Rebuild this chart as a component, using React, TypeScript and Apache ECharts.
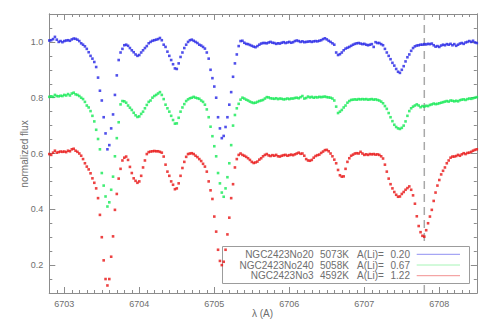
import React, { useEffect, useRef } from "react";
import * as echarts from "echarts";

// wavelength sampling of the spectra (Angstrom)
const LAMBDA_START = 6702.8;
const LAMBDA_STEP = 0.025;

const X_MIN = 6702.8;
const X_MAX = 6708.5;
const Y_MIN = 0.1;
const Y_MAX = 1.1;
const X_TICKS = [6703, 6704, 6705, 6706, 6707, 6708];
const Y_TICKS = [0.2, 0.4, 0.6, 0.8, 1.0];
const LI_LINE = 6707.8;

const STARS = ["NGC2423No20", "NGC2423No240", "NGC2423No3"];
const TEFF = ["5073K", "5058K", "4592K"];
const ALI = ["0.20", "0.67", "1.22"];

const FLUX_NO20 = [
  1.005, 1.006, 1.010, 1.018, 1.008, 1.000, 1.003, 0.999, 1.003, 1.005,
  1.006, 1.004, 1.009, 1.012, 1.011, 1.008, 1.003, 0.995, 0.990, 0.984,
  0.975, 0.963, 0.950, 0.940, 0.928, 0.910, 0.872, 0.825, 0.790, 0.730,
  0.672, 0.615, 0.630, 0.690, 0.740, 0.810, 0.880, 0.935, 0.962, 0.975,
  0.988, 0.990, 0.986, 0.978, 0.970, 0.963, 0.955, 0.950, 0.953, 0.962,
  0.970, 0.978, 0.985, 0.995, 1.000, 1.004, 1.006, 1.008, 1.010, 1.014,
  1.006, 0.990, 0.982, 0.965, 0.950, 0.935, 0.920, 0.905, 0.903, 0.923,
  0.946, 0.962, 0.978, 0.990, 1.000, 1.006, 1.008, 1.004, 1.000, 0.996,
  0.990, 0.987, 0.982, 0.976, 0.962, 0.940, 0.900, 0.870, 0.840, 0.800,
  0.730, 0.690, 0.655, 0.663, 0.695, 0.730, 0.775, 0.820, 0.875, 0.923,
  0.955, 0.985, 1.003, 1.004, 0.997, 0.993, 0.992, 0.989, 0.986, 0.983,
  0.981, 0.985, 0.990, 0.994, 0.996, 0.996, 0.995, 0.998, 1.000, 0.997,
  0.996, 0.993, 0.995, 0.994, 0.997, 0.999, 0.996, 0.998, 1.000, 0.997,
  0.999, 1.003, 1.005, 1.003, 1.000, 1.002, 0.999, 1.000, 1.001, 1.002,
  1.000, 1.002, 1.003, 1.002, 1.004, 1.006, 1.010, 1.013, 1.009, 1.004,
  1.000, 0.995, 0.990, 0.962, 0.953, 0.956, 0.962, 0.970, 0.976, 0.979,
  0.982, 0.986, 0.990, 0.993, 0.995, 0.996, 0.994, 0.992, 0.993, 0.990,
  0.988, 0.990, 0.992, 0.982, 0.999, 0.996, 0.996, 0.992, 0.988, 0.975,
  0.962, 0.950, 0.938, 0.925, 0.915, 0.903, 0.893, 0.889, 0.900, 0.913,
  0.930, 0.945, 0.955, 0.968, 0.978, 0.984, 0.987, 0.988, 0.990, 0.990,
  0.992, 0.991, 0.993, 0.992, 0.994, 0.988, 0.983, 0.985, 0.982, 0.987,
  0.990, 0.988, 0.992, 0.990, 0.993, 0.988, 0.992, 0.986, 0.990, 0.994,
  0.996, 0.993, 0.998, 1.000, 1.003, 1.000, 1.004, 0.998, 0.996,
];

const FLUX_NO240 = [
  0.803, 0.805, 0.803, 0.810, 0.806, 0.805, 0.807, 0.806, 0.810, 0.808,
  0.813, 0.808, 0.815, 0.818, 0.812, 0.810, 0.806, 0.800, 0.795, 0.785,
  0.772, 0.765, 0.752, 0.735, 0.715, 0.685, 0.652, 0.615, 0.530, 0.485,
  0.446, 0.410, 0.425, 0.470, 0.517, 0.590, 0.655, 0.712, 0.776, 0.788,
  0.787, 0.782, 0.772, 0.764, 0.756, 0.746, 0.737, 0.731, 0.733, 0.742,
  0.750, 0.762, 0.774, 0.785, 0.790, 0.800, 0.806, 0.810, 0.815, 0.820,
  0.810, 0.795, 0.775, 0.762, 0.750, 0.735, 0.720, 0.707, 0.708, 0.728,
  0.750, 0.765, 0.777, 0.788, 0.794, 0.798, 0.800, 0.803, 0.800, 0.798,
  0.796, 0.790, 0.785, 0.775, 0.758, 0.730, 0.696, 0.662, 0.626, 0.590,
  0.530, 0.493, 0.460, 0.445, 0.475, 0.515, 0.565, 0.630, 0.700, 0.738,
  0.762, 0.778, 0.793, 0.800, 0.797, 0.793, 0.790, 0.786, 0.783, 0.781,
  0.782, 0.785, 0.788, 0.790, 0.792, 0.797, 0.802, 0.801, 0.798, 0.797,
  0.796, 0.798, 0.795, 0.797, 0.796, 0.794, 0.795, 0.797, 0.795, 0.797,
  0.797, 0.799, 0.800, 0.798, 0.802, 0.806, 0.797, 0.799, 0.804, 0.801,
  0.803, 0.800, 0.802, 0.801, 0.803, 0.802, 0.803, 0.804, 0.802, 0.801,
  0.800, 0.797, 0.790, 0.768, 0.745, 0.750, 0.756, 0.765, 0.772, 0.782,
  0.788, 0.792, 0.793, 0.794, 0.793, 0.795, 0.794, 0.795, 0.794, 0.795,
  0.793, 0.794, 0.795, 0.793, 0.794, 0.792, 0.790, 0.786, 0.780, 0.770,
  0.760, 0.745, 0.730, 0.716, 0.703, 0.695, 0.690, 0.688, 0.692, 0.700,
  0.715, 0.735, 0.752, 0.762, 0.768, 0.772, 0.776, 0.772, 0.766, 0.770,
  0.768, 0.771, 0.770, 0.774, 0.776, 0.779, 0.777, 0.778, 0.780, 0.782,
  0.784, 0.786, 0.788, 0.786, 0.790, 0.789, 0.787, 0.789, 0.787, 0.791,
  0.793, 0.794, 0.792, 0.795, 0.797, 0.796, 0.798, 0.800, 0.802,
];

const FLUX_NO3 = [
  0.598, 0.595, 0.603, 0.610, 0.603, 0.605, 0.607, 0.606, 0.607, 0.605,
  0.610, 0.608, 0.615, 0.617, 0.610, 0.606, 0.600, 0.592, 0.580, 0.565,
  0.553, 0.543, 0.529, 0.511, 0.495, 0.475, 0.440, 0.380, 0.300, 0.217,
  0.150, 0.127, 0.150, 0.230, 0.303, 0.398, 0.455, 0.510, 0.545, 0.575,
  0.585, 0.589, 0.577, 0.552, 0.530, 0.511, 0.502, 0.495, 0.500, 0.520,
  0.550, 0.575, 0.598, 0.605, 0.607, 0.608, 0.609, 0.608, 0.608, 0.606,
  0.603, 0.589, 0.560, 0.535, 0.520, 0.500, 0.488, 0.472, 0.475, 0.493,
  0.520, 0.548, 0.570, 0.588, 0.598, 0.600, 0.601, 0.598, 0.592, 0.587,
  0.580, 0.573, 0.563, 0.553, 0.535, 0.500, 0.468, 0.437, 0.374, 0.320,
  0.255, 0.215, 0.200, 0.212, 0.255, 0.310, 0.370, 0.440, 0.490, 0.550,
  0.580, 0.595, 0.600, 0.595, 0.592, 0.588, 0.583, 0.577, 0.570, 0.566,
  0.568, 0.571, 0.578, 0.583, 0.590, 0.595, 0.598, 0.593, 0.591, 0.594,
  0.592, 0.595, 0.590, 0.589, 0.592, 0.594, 0.595, 0.592, 0.594, 0.596,
  0.594, 0.597, 0.600, 0.603, 0.599, 0.600, 0.592, 0.580, 0.575, 0.574,
  0.577, 0.585, 0.591, 0.594, 0.596, 0.602, 0.607, 0.612, 0.613, 0.608,
  0.600, 0.590, 0.578, 0.565, 0.541, 0.522, 0.517, 0.518, 0.545, 0.570,
  0.583, 0.592, 0.596, 0.600, 0.601, 0.600, 0.606, 0.600, 0.595, 0.597,
  0.595, 0.598, 0.597, 0.598, 0.596, 0.597, 0.595, 0.590, 0.582, 0.560,
  0.535, 0.510, 0.490, 0.475, 0.462, 0.452, 0.445, 0.446, 0.455, 0.462,
  0.470, 0.476, 0.482, 0.470, 0.450, 0.420, 0.375, 0.340, 0.318, 0.305,
  0.302, 0.325, 0.350, 0.374, 0.398, 0.430, 0.460, 0.485, 0.505, 0.525,
  0.538, 0.550, 0.565, 0.575, 0.585, 0.589, 0.589, 0.591, 0.595, 0.592,
  0.597, 0.601, 0.598, 0.602, 0.603, 0.606, 0.610, 0.613, 0.615,
];

const SERIES_FLUX = [FLUX_NO20, FLUX_NO240, FLUX_NO3];
const DOT_COLORS = ["#2424e6", "#14ea55", "#e81414"];
const LEGEND_LINE_COLORS = ["#9090f2", "#a6f4b6", "#f29090"];

const FRAME = "#8c8c8c";
const TEXT = "#6e6e6e";
const FONT = "Liberation Sans, Arial, sans-serif";

export default function App() {
  const ref = useRef<HTMLDivElement>(null);

  useEffect(() => {
    if (!ref.current) return;
    const chart = echarts.init(ref.current, undefined, { renderer: "svg" });

    const line = { lineStyle: { color: FRAME, width: 1 } };
    const mkX = (position: string, major: boolean, labels: boolean) => ({
      type: "value",
      position,
      min: X_MIN,
      max: X_MAX,
      ...(major ? {} : { interval: 0.1 }),
      axisLine: { show: true, onZero: false, ...line },
      splitLine: { show: false },
      axisTick: {
        show: true,
        inside: true,
        length: major ? 6 : 3,
        ...(major ? { customValues: X_TICKS } : {}),
        ...line,
      },
      axisLabel: labels
        ? {
            show: true,
            customValues: X_TICKS,
            formatter: (v: number) => String(v),
            color: TEXT,
            fontSize: 9,
            fontFamily: FONT,
            margin: 6,
          }
        : { show: false },
    });
    const mkY = (position: string, major: boolean, labels: boolean) => ({
      type: "value",
      position,
      min: Y_MIN,
      max: Y_MAX,
      ...(major ? {} : { interval: 0.05 }),
      axisLine: { show: true, onZero: false, ...line },
      splitLine: { show: false },
      axisTick: {
        show: true,
        inside: true,
        length: major ? 6 : 3,
        ...(major ? { customValues: Y_TICKS } : {}),
        ...line,
      },
      axisLabel: labels
        ? {
            show: true,
            customValues: Y_TICKS,
            formatter: (v: number) => v.toFixed(1),
            color: TEXT,
            fontSize: 9,
            fontFamily: FONT,
            margin: 6,
          }
        : { show: false },
    });

    const rowsY = [254.3, 265, 275.7];
    const legendEls: any[] = [
      {
        type: "rect",
        z: 1.5,
        shape: { x: 222.5, y: 246.5, width: 247, height: 37 },
        style: { fill: "#ffffff", stroke: "#9c9c9c", lineWidth: 1 },
      },
    ];
    STARS.forEach((name, k) => {
      const y = rowsY[k];
      const ts = { fontSize: 10, fontFamily: FONT, fill: TEXT, verticalAlign: "middle" };
      legendEls.push(
        { type: "text", z: 10, x: 313.5, y, style: { ...ts, text: name, align: "right" } },
        { type: "text", z: 10, x: 320, y, style: { ...ts, text: TEFF[k], align: "left" } },
        { type: "text", z: 10, x: 357, y, style: { ...ts, text: "A(Li)=", align: "left" } },
        { type: "text", z: 10, x: 410, y, style: { ...ts, text: ALI[k], align: "right" } },
        {
          type: "line",
          z: 10,
          shape: { x1: 416.7, y1: y, x2: 460, y2: y },
          style: { stroke: LEGEND_LINE_COLORS[k], lineWidth: 1 },
        }
      );
    });

    const option: any = {
      animation: false,
      backgroundColor: "#ffffff",
      grid: { left: 49.3, right: 14.2, top: 14, bottom: 32, containLabel: false },
      xAxis: [
        mkX("bottom", false, false),
        mkX("bottom", true, true),
        mkX("top", false, false),
        mkX("top", true, false),
      ],
      yAxis: [
        mkY("left", false, false),
        mkY("left", true, true),
        mkY("right", false, false),
        mkY("right", true, false),
      ],
      series: [
        {
          type: "line",
          z: 1,
          silent: true,
          symbol: "none",
          xAxisIndex: 0,
          yAxisIndex: 0,
          data: [
            [LI_LINE, Y_MIN],
            [LI_LINE, Y_MAX],
          ],
          lineStyle: { color: "#a8a8a8", width: 1.5, type: [8, 5] },
        },
        ...SERIES_FLUX.map((flux, k) => ({
          type: "scatter",
          name: STARS[k],
          z: 2,
          silent: true,
          xAxisIndex: 0,
          yAxisIndex: 0,
          symbol: "rect",
          symbolSize: 2.6,
          itemStyle: { color: DOT_COLORS[k] },
          data: flux.map((f, i) => [LAMBDA_START + i * LAMBDA_STEP, f]),
        })),
      ],
      graphic: {
        elements: [
          ...legendEls,
          {
            type: "text",
            x: 262.5,
            y: 313,
            style: {
              text: "λ (A)",
              fontSize: 10,
              fontFamily: FONT,
              fill: TEXT,
              align: "center",
              verticalAlign: "middle",
            },
          },
          {
            type: "text",
            x: 24,
            y: 154,
            rotation: Math.PI / 2,
            style: {
              text: "normalized flux",
              fontSize: 10,
              fontFamily: FONT,
              fill: TEXT,
              align: "center",
              verticalAlign: "middle",
            },
          },
        ],
      },
    };

    chart.setOption(option);
    return () => chart.dispose();
  }, []);

  return (
    <div
      ref={ref}
      style={{ position: "absolute", left: 0, top: 0, width: 491, height: 325 }}
    />
  );
}
